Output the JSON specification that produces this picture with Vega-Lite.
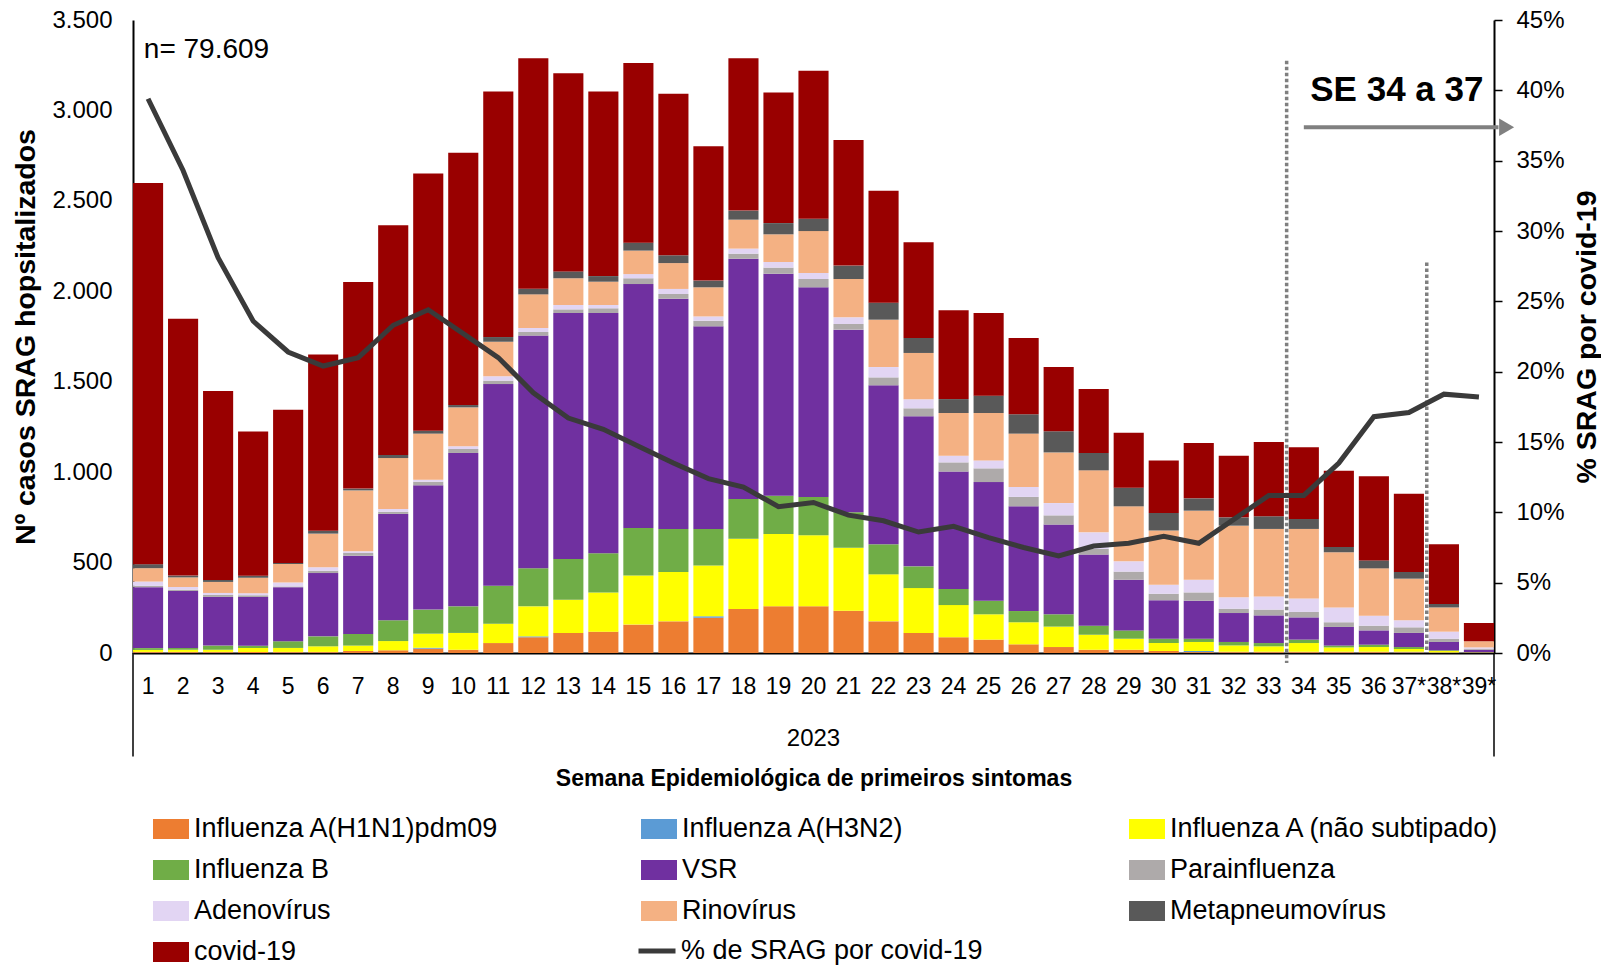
{
  "$schema": "https://vega.github.io/schema/vega-lite/v6.json",
  "width": 1361,
  "height": 633,
  "autosize": {"type": "none"},
  "padding": {"left": 133, "top": 20, "right": 107, "bottom": 320},
  "background": "white",
  "config": {
    "font": "Liberation Sans",
    "locale": {"number": {"decimal": ",", "thousands": ".", "grouping": [3], "currency": ["R$", ""]}},
    "view": {"stroke": null},
    "axis": {"labelFont": "Liberation Sans", "titleFont": "Liberation Sans", "labelColor": "#000000", "titleColor": "#000000", "grid": false},
    "legend": {"labelFont": "Liberation Sans", "labelColor": "#000000", "padding": 0}
  },
  "datasets": {
    "agentes": [
      {"agente": "Influenza A(H1N1)pdm09", "ordem": 1},
      {"agente": "Influenza A(H3N2)", "ordem": 2},
      {"agente": "Influenza A (não subtipado)", "ordem": 3},
      {"agente": "Influenza B", "ordem": 4},
      {"agente": "VSR", "ordem": 5},
      {"agente": "Parainfluenza", "ordem": 6},
      {"agente": "Adenovírus", "ordem": 7},
      {"agente": "Rinovírus", "ordem": 8},
      {"agente": "Metapneumovírus", "ordem": 9},
      {"agente": "covid-19", "ordem": 10}
    ],
    "semanas": [
      {"se": "1", "Influenza A(H1N1)pdm09": 5, "Influenza A(H3N2)": 1, "Influenza A (não subtipado)": 11, "Influenza B": 10, "VSR": 337, "Parainfluenza": 7, "Adenovírus": 24, "Rinovírus": 74, "Metapneumovírus": 22, "covid-19": 2108, "pct": 0.394},
      {"se": "2", "Influenza A(H1N1)pdm09": 5, "Influenza A(H3N2)": 1, "Influenza A (não subtipado)": 12, "Influenza B": 10, "VSR": 315, "Parainfluenza": 7, "Adenovírus": 15, "Rinovírus": 53, "Metapneumovírus": 10, "covid-19": 1420, "pct": 0.343},
      {"se": "3", "Influenza A(H1N1)pdm09": 5, "Influenza A(H3N2)": 1, "Influenza A (não subtipado)": 12, "Influenza B": 23, "VSR": 269, "Parainfluenza": 11, "Adenovírus": 11, "Rinovírus": 61, "Metapneumovírus": 11, "covid-19": 1045, "pct": 0.281},
      {"se": "4", "Influenza A(H1N1)pdm09": 5, "Influenza A(H3N2)": 1, "Influenza A (não subtipado)": 22, "Influenza B": 12, "VSR": 269, "Parainfluenza": 11, "Adenovírus": 11, "Rinovírus": 85, "Metapneumovírus": 11, "covid-19": 798, "pct": 0.236},
      {"se": "5", "Influenza A(H1N1)pdm09": 5, "Influenza A(H3N2)": 1, "Influenza A (não subtipado)": 22, "Influenza B": 37, "VSR": 299, "Parainfluenza": 4, "Adenovírus": 22, "Rinovírus": 102, "Metapneumovírus": 6, "covid-19": 847, "pct": 0.214},
      {"se": "6", "Influenza A(H1N1)pdm09": 5, "Influenza A(H3N2)": 1, "Influenza A (não subtipado)": 31, "Influenza B": 55, "VSR": 350, "Parainfluenza": 13, "Adenovírus": 19, "Rinovírus": 186, "Metapneumovírus": 16, "covid-19": 975, "pct": 0.204},
      {"se": "7", "Influenza A(H1N1)pdm09": 11, "Influenza A(H3N2)": 0, "Influenza A (não subtipado)": 30, "Influenza B": 64, "VSR": 433, "Parainfluenza": 15, "Adenovírus": 9, "Rinovírus": 337, "Metapneumovírus": 10, "covid-19": 1142, "pct": 0.21},
      {"se": "8", "Influenza A(H1N1)pdm09": 15, "Influenza A(H3N2)": 0, "Influenza A (não subtipado)": 51, "Influenza B": 115, "VSR": 588, "Parainfluenza": 12, "Adenovírus": 15, "Rinovírus": 282, "Metapneumovírus": 17, "covid-19": 1270, "pct": 0.233},
      {"se": "9", "Influenza A(H1N1)pdm09": 24, "Influenza A(H3N2)": 5, "Influenza A (não subtipado)": 78, "Influenza B": 133, "VSR": 687, "Parainfluenza": 20, "Adenovírus": 11, "Rinovírus": 255, "Metapneumovírus": 16, "covid-19": 1422, "pct": 0.244},
      {"se": "10", "Influenza A(H1N1)pdm09": 18, "Influenza A(H3N2)": 0, "Influenza A (não subtipado)": 93, "Influenza B": 147, "VSR": 848, "Parainfluenza": 22, "Adenovírus": 15, "Rinovírus": 215, "Metapneumovírus": 13, "covid-19": 1395, "pct": 0.227},
      {"se": "11", "Influenza A(H1N1)pdm09": 55, "Influenza A(H3N2)": 0, "Influenza A (não subtipado)": 107, "Influenza B": 210, "VSR": 1115, "Parainfluenza": 19, "Adenovírus": 24, "Rinovírus": 191, "Metapneumovírus": 26, "covid-19": 1357, "pct": 0.21},
      {"se": "12", "Influenza A(H1N1)pdm09": 87, "Influenza A(H3N2)": 5, "Influenza A (não subtipado)": 166, "Influenza B": 210, "VSR": 1287, "Parainfluenza": 20, "Adenovírus": 22, "Rinovírus": 186, "Metapneumovírus": 31, "covid-19": 1275, "pct": 0.185},
      {"se": "13", "Influenza A(H1N1)pdm09": 111, "Influenza A(H3N2)": 0, "Influenza A (não subtipado)": 184, "Influenza B": 225, "VSR": 1360, "Parainfluenza": 20, "Adenovírus": 24, "Rinovírus": 148, "Metapneumovírus": 38, "covid-19": 1095, "pct": 0.167},
      {"se": "14", "Influenza A(H1N1)pdm09": 118, "Influenza A(H3N2)": 0, "Influenza A (não subtipado)": 217, "Influenza B": 216, "VSR": 1329, "Parainfluenza": 26, "Adenovírus": 18, "Rinovírus": 129, "Metapneumovírus": 31, "covid-19": 1020, "pct": 0.159},
      {"se": "15", "Influenza A(H1N1)pdm09": 157, "Influenza A(H3N2)": 0, "Influenza A (não subtipado)": 272, "Influenza B": 262, "VSR": 1349, "Parainfluenza": 32, "Adenovírus": 23, "Rinovírus": 130, "Metapneumovírus": 44, "covid-19": 993, "pct": 0.147},
      {"se": "16", "Influenza A(H1N1)pdm09": 175, "Influenza A(H3N2)": 0, "Influenza A (não subtipado)": 273, "Influenza B": 238, "VSR": 1273, "Parainfluenza": 26, "Adenovírus": 28, "Rinovírus": 143, "Metapneumovírus": 43, "covid-19": 893, "pct": 0.135},
      {"se": "17", "Influenza A(H1N1)pdm09": 195, "Influenza A(H3N2)": 8, "Influenza A (não subtipado)": 281, "Influenza B": 202, "VSR": 1120, "Parainfluenza": 31, "Adenovírus": 24, "Rinovírus": 161, "Metapneumovírus": 37, "covid-19": 743, "pct": 0.124},
      {"se": "18", "Influenza A(H1N1)pdm09": 243, "Influenza A(H3N2)": 0, "Influenza A (não subtipado)": 389, "Influenza B": 219, "VSR": 1329, "Parainfluenza": 28, "Adenovírus": 28, "Rinovírus": 160, "Metapneumovírus": 50, "covid-19": 843, "pct": 0.118},
      {"se": "19", "Influenza A(H1N1)pdm09": 258, "Influenza A(H3N2)": 0, "Influenza A (não subtipado)": 400, "Influenza B": 212, "VSR": 1227, "Parainfluenza": 34, "Adenovírus": 31, "Rinovírus": 153, "Metapneumovírus": 62, "covid-19": 722, "pct": 0.104},
      {"se": "20", "Influenza A(H1N1)pdm09": 258, "Influenza A(H3N2)": 0, "Influenza A (não subtipado)": 393, "Influenza B": 212, "VSR": 1159, "Parainfluenza": 46, "Adenovírus": 33, "Rinovírus": 232, "Metapneumovírus": 68, "covid-19": 818, "pct": 0.107},
      {"se": "21", "Influenza A(H1N1)pdm09": 234, "Influenza A(H3N2)": 0, "Influenza A (não subtipado)": 348, "Influenza B": 196, "VSR": 1010, "Parainfluenza": 31, "Adenovírus": 37, "Rinovírus": 212, "Metapneumovírus": 74, "covid-19": 694, "pct": 0.098},
      {"se": "22", "Influenza A(H1N1)pdm09": 175, "Influenza A(H3N2)": 0, "Influenza A (não subtipado)": 260, "Influenza B": 166, "VSR": 879, "Parainfluenza": 44, "Adenovírus": 57, "Rinovírus": 262, "Metapneumovírus": 94, "covid-19": 619, "pct": 0.094},
      {"se": "23", "Influenza A(H1N1)pdm09": 111, "Influenza A(H3N2)": 0, "Influenza A (não subtipado)": 248, "Influenza B": 120, "VSR": 830, "Parainfluenza": 44, "Adenovírus": 50, "Rinovírus": 256, "Metapneumovírus": 83, "covid-19": 529, "pct": 0.086},
      {"se": "24", "Influenza A(H1N1)pdm09": 87, "Influenza A(H3N2)": 0, "Influenza A (não subtipado)": 178, "Influenza B": 89, "VSR": 649, "Parainfluenza": 51, "Adenovírus": 37, "Rinovírus": 236, "Metapneumovírus": 77, "covid-19": 491, "pct": 0.09},
      {"se": "25", "Influenza A(H1N1)pdm09": 74, "Influenza A(H3N2)": 0, "Influenza A (não subtipado)": 140, "Influenza B": 75, "VSR": 656, "Parainfluenza": 76, "Adenovírus": 44, "Rinovírus": 262, "Metapneumovírus": 96, "covid-19": 457, "pct": 0.082},
      {"se": "26", "Influenza A(H1N1)pdm09": 48, "Influenza A(H3N2)": 0, "Influenza A (não subtipado)": 122, "Influenza B": 62, "VSR": 579, "Parainfluenza": 52, "Adenovírus": 55, "Rinovírus": 295, "Metapneumovírus": 107, "covid-19": 422, "pct": 0.075},
      {"se": "27", "Influenza A(H1N1)pdm09": 33, "Influenza A(H3N2)": 0, "Influenza A (não subtipado)": 113, "Influenza B": 68, "VSR": 496, "Parainfluenza": 51, "Adenovírus": 68, "Rinovírus": 280, "Metapneumovírus": 117, "covid-19": 355, "pct": 0.069},
      {"se": "28", "Influenza A(H1N1)pdm09": 18, "Influenza A(H3N2)": 0, "Influenza A (não subtipado)": 83, "Influenza B": 50, "VSR": 393, "Parainfluenza": 31, "Adenovírus": 92, "Rinovírus": 343, "Metapneumovírus": 96, "covid-19": 354, "pct": 0.076},
      {"se": "29", "Influenza A(H1N1)pdm09": 18, "Influenza A(H3N2)": 0, "Influenza A (não subtipado)": 61, "Influenza B": 46, "VSR": 280, "Parainfluenza": 45, "Adenovírus": 57, "Rinovírus": 304, "Metapneumovírus": 103, "covid-19": 304, "pct": 0.078},
      {"se": "30", "Influenza A(H1N1)pdm09": 11, "Influenza A(H3N2)": 0, "Influenza A (não subtipado)": 44, "Influenza B": 24, "VSR": 212, "Parainfluenza": 37, "Adenovírus": 50, "Rinovírus": 300, "Metapneumovírus": 96, "covid-19": 291, "pct": 0.083},
      {"se": "31", "Influenza A(H1N1)pdm09": 5, "Influenza A(H3N2)": 6, "Influenza A (não subtipado)": 50, "Influenza B": 18, "VSR": 210, "Parainfluenza": 46, "Adenovírus": 70, "Rinovírus": 382, "Metapneumovírus": 68, "covid-19": 306, "pct": 0.078},
      {"se": "32", "Influenza A(H1N1)pdm09": 5, "Influenza A(H3N2)": 2, "Influenza A (não subtipado)": 35, "Influenza B": 19, "VSR": 160, "Parainfluenza": 24, "Adenovírus": 63, "Rinovírus": 396, "Metapneumovírus": 46, "covid-19": 341, "pct": 0.095},
      {"se": "33", "Influenza A(H1N1)pdm09": 5, "Influenza A(H3N2)": 2, "Influenza A (não subtipado)": 30, "Influenza B": 18, "VSR": 153, "Parainfluenza": 32, "Adenovírus": 73, "Rinovírus": 373, "Metapneumovírus": 70, "covid-19": 411, "pct": 0.112},
      {"se": "34", "Influenza A(H1N1)pdm09": 5, "Influenza A(H3N2)": 2, "Influenza A (não subtipado)": 48, "Influenza B": 19, "VSR": 123, "Parainfluenza": 30, "Adenovírus": 75, "Rinovírus": 384, "Metapneumovírus": 55, "covid-19": 396, "pct": 0.112},
      {"se": "35", "Influenza A(H1N1)pdm09": 5, "Influenza A(H3N2)": 2, "Influenza A (não subtipado)": 24, "Influenza B": 10, "VSR": 103, "Parainfluenza": 26, "Adenovírus": 82, "Rinovírus": 305, "Metapneumovírus": 29, "covid-19": 422, "pct": 0.135},
      {"se": "36", "Influenza A(H1N1)pdm09": 5, "Influenza A(H3N2)": 2, "Influenza A (não subtipado)": 26, "Influenza B": 13, "VSR": 79, "Parainfluenza": 26, "Adenovírus": 55, "Rinovírus": 262, "Metapneumovírus": 44, "covid-19": 465, "pct": 0.168},
      {"se": "37*", "Influenza A(H1N1)pdm09": 4, "Influenza A(H3N2)": 3, "Influenza A (não subtipado)": 15, "Influenza B": 11, "VSR": 78, "Parainfluenza": 31, "Adenovírus": 39, "Rinovírus": 230, "Metapneumovírus": 37, "covid-19": 433, "pct": 0.171},
      {"se": "38*", "Influenza A(H1N1)pdm09": 2, "Influenza A(H3N2)": 1, "Influenza A (não subtipado)": 8, "Influenza B": 4, "VSR": 46, "Parainfluenza": 18, "Adenovírus": 39, "Rinovírus": 134, "Metapneumovírus": 19, "covid-19": 330, "pct": 0.184},
      {"se": "39*", "Influenza A(H1N1)pdm09": 1, "Influenza A(H3N2)": 0, "Influenza A (não subtipado)": 2, "Influenza B": 1, "VSR": 14, "Parainfluenza": 6, "Adenovírus": 7, "Rinovírus": 34, "Metapneumovírus": 0, "covid-19": 101, "pct": 0.182}
    ]
  },
  "data": {"name": "semanas"},
  "layer": [
    {
      "layer": [
        {
          "transform": [
            {"fold": ["Influenza A(H1N1)pdm09", "Influenza A(H3N2)", "Influenza A (não subtipado)", "Influenza B", "VSR", "Parainfluenza", "Adenovírus", "Rinovírus", "Metapneumovírus", "covid-19"], "as": ["agente", "casos"]},
            {"lookup": "agente", "from": {"data": {"name": "agentes"}, "key": "agente", "fields": ["ordem"]}}
          ],
          "mark": {"type": "bar"},
          "encoding": {
            "x": {
              "field": "se", "type": "ordinal",
              "scale": {"domain": ["1","2","3","4","5","6","7","8","9","10","11","12","13","14","15","16","17","18","19","20","21","22","23","24","25","26","27","28","29","30","31","32","33","34","35","36","37*","38*","39*"], "paddingInner": 0.14, "paddingOuter": 0},
              "axis": {
                "title": "Semana Epidemiológica de primeiros sintomas",
                "titleFontSize": 23, "titleFontWeight": "bold", "titleY": 125, "titleBaseline": "middle",
                "labelFontSize": 23, "labelPadding": 22, "labelAngle": 0, "ticks": false,
                "labelOverlap": false, "labelFlush": false, "labelBound": false,
                "domainColor": "#000000", "domainWidth": 2
              }
            },
            "y": {
              "field": "casos", "type": "quantitative", "stack": "zero",
              "scale": {"domain": [0, 3500], "nice": false},
              "axis": {
                "title": "Nº casos SRAG hopsitalizados",
                "titleFontSize": 28.5, "titleFontWeight": "bold", "titleX": -108, "titleBaseline": "middle",
                "values": [0, 500, 1000, 1500, 2000, 2500, 3000, 3500], "format": ",d",
                "labelFontSize": 24, "labelPadding": 21, "ticks": false,
                "domainColor": "#000000", "domainWidth": 2
              }
            },
            "fill": {
              "field": "agente", "type": "nominal",
              "scale": {
                "domain": ["Influenza A(H1N1)pdm09", "Influenza A(H3N2)", "Influenza A (não subtipado)", "Influenza B", "VSR", "Parainfluenza", "Adenovírus", "Rinovírus", "Metapneumovírus", "covid-19"],
                "range": ["#ED7D31", "#5B9BD5", "#FFFF00", "#70AD47", "#7030A0", "#AEAAAA", "#E2D5F3", "#F4B183", "#595959", "#990000"]
              },
              "legend": {
                "title": null, "orient": "none", "legendX": 20, "legendY": 791,
                "direction": "horizontal",
                "columns": 3, "gridAlign": "all", "columnPadding": 116, "rowPadding": 10,
                "symbolType": "M-1,-0.56H1V0.56H-1Z", "symbolSize": 1296, "symbolStrokeWidth": 0,
                "labelFontSize": 27, "labelOffset": 5, "labelLimit": 600
              }
            },
            "order": {"field": "ordem", "type": "quantitative", "sort": "ascending"}
          }
        },
        {
          "data": {"values": [{}]},
          "mark": {"type": "rule", "color": "#7F7F7F", "strokeWidth": 3.5, "strokeDash": [3.5, 2.5]},
          "encoding": {
            "x": {"datum": "34", "type": "ordinal", "bandPosition": -0.07},
            "y": {"datum": 3275, "type": "quantitative", "scale": {"domain": [0, 3500], "nice": false}},
            "y2": {"datum": -55}
          }
        },
        {
          "data": {"values": [{}]},
          "mark": {"type": "rule", "color": "#7F7F7F", "strokeWidth": 3.5, "strokeDash": [3.5, 2.5]},
          "encoding": {
            "x": {"datum": "38*", "type": "ordinal", "bandPosition": -0.07},
            "y": {"datum": 2159, "type": "quantitative", "scale": {"domain": [0, 3500], "nice": false}},
            "y2": {"datum": 0}
          }
        },
        {
          "data": {"values": [{}]},
          "mark": {"type": "rule", "color": "#000000", "strokeWidth": 1.5},
          "encoding": {
            "x": {"datum": "1", "type": "ordinal", "bandPosition": 0},
            "y": {"datum": 0, "type": "quantitative", "scale": {"domain": [0, 3500], "nice": false}},
            "y2": {"datum": -572}
          }
        },
        {
          "data": {"values": [{}]},
          "mark": {"type": "rule", "color": "#000000", "strokeWidth": 1.5},
          "encoding": {
            "x": {"datum": "39*", "type": "ordinal", "bandPosition": 1},
            "y": {"datum": 0, "type": "quantitative", "scale": {"domain": [0, 3500], "nice": false}},
            "y2": {"datum": -572}
          }
        },
        {
          "data": {"values": [{}]},
          "mark": {"type": "rule", "color": "#808080", "strokeWidth": 4},
          "encoding": {
            "x": {"datum": "34", "type": "ordinal", "bandPosition": 0.5},
            "x2": {"datum": "39*", "bandPosition": 1.15},
            "y": {"datum": 2907, "type": "quantitative", "scale": {"domain": [0, 3500], "nice": false}}
          }
        },
        {
          "data": {"values": [{}]},
          "mark": {"type": "point", "shape": "triangle-right", "filled": true, "color": "#808080", "size": 300, "opacity": 1},
          "encoding": {
            "x": {"datum": "39*", "type": "ordinal", "bandPosition": 1.42},
            "y": {"datum": 2907, "type": "quantitative", "scale": {"domain": [0, 3500], "nice": false}}
          }
        },
        {
          "data": {"values": [{}]},
          "mark": {"type": "text", "text": "SE 34 a 37", "font": "Liberation Sans", "fontSize": 35, "fontWeight": "bold", "align": "center", "baseline": "middle", "color": "#000000"},
          "encoding": {
            "x": {"datum": "37*", "type": "ordinal", "bandPosition": 0.1},
            "y": {"datum": 3115, "type": "quantitative", "scale": {"domain": [0, 3500], "nice": false}}
          }
        },
        {
          "data": {"values": [{}]},
          "mark": {"type": "text", "text": "n= 79.609", "font": "Liberation Sans", "fontSize": 28, "align": "left", "baseline": "middle", "color": "#000000"},
          "encoding": {
            "x": {"datum": "1", "type": "ordinal", "bandPosition": 0.36},
            "y": {"datum": 3335, "type": "quantitative", "scale": {"domain": [0, 3500], "nice": false}}
          }
        },
        {
          "data": {"values": [{}]},
          "mark": {"type": "text", "text": "2023", "font": "Liberation Sans", "fontSize": 24, "align": "center", "baseline": "middle", "color": "#000000"},
          "encoding": {
            "x": {"datum": "20", "type": "ordinal", "bandPosition": 0.5},
            "y": {"datum": -478, "type": "quantitative", "scale": {"domain": [0, 3500], "nice": false}}
          }
        }
      ]
    },
    {
      "mark": {"type": "line", "strokeWidth": 5},
      "encoding": {
        "x": {"field": "se", "type": "ordinal"},
        "y": {
          "field": "pct", "type": "quantitative",
          "scale": {"domain": [0, 0.45], "nice": false},
          "axis": {
            "orient": "right",
            "title": "% SRAG por covid-19",
            "titleFontSize": 28.5, "titleFontWeight": "bold", "titleAngle": 270, "titleX": 92, "titleBaseline": "middle",
            "values": [0, 0.05, 0.1, 0.15, 0.2, 0.25, 0.3, 0.35, 0.4, 0.45], "format": ".0%",
            "labelFontSize": 24, "labelPadding": 14, "tickSize": 8, "tickColor": "#000000", "tickWidth": 1.5,
            "domainColor": "#000000", "domainWidth": 2
          }
        },
        "stroke": {
          "datum": "% de SRAG por covid-19", "type": "nominal",
          "scale": {"range": ["#3A3A3A"]},
          "legend": {
            "title": null, "orient": "none", "legendX": 503, "legendY": 910,
            "symbolType": "stroke", "symbolSize": 1369, "symbolStrokeWidth": 5,
            "labelFontSize": 27, "labelOffset": 3, "labelLimit": 600
          }
        }
      }
    }
  ],
  "resolve": {"scale": {"y": "independent"}}
}
